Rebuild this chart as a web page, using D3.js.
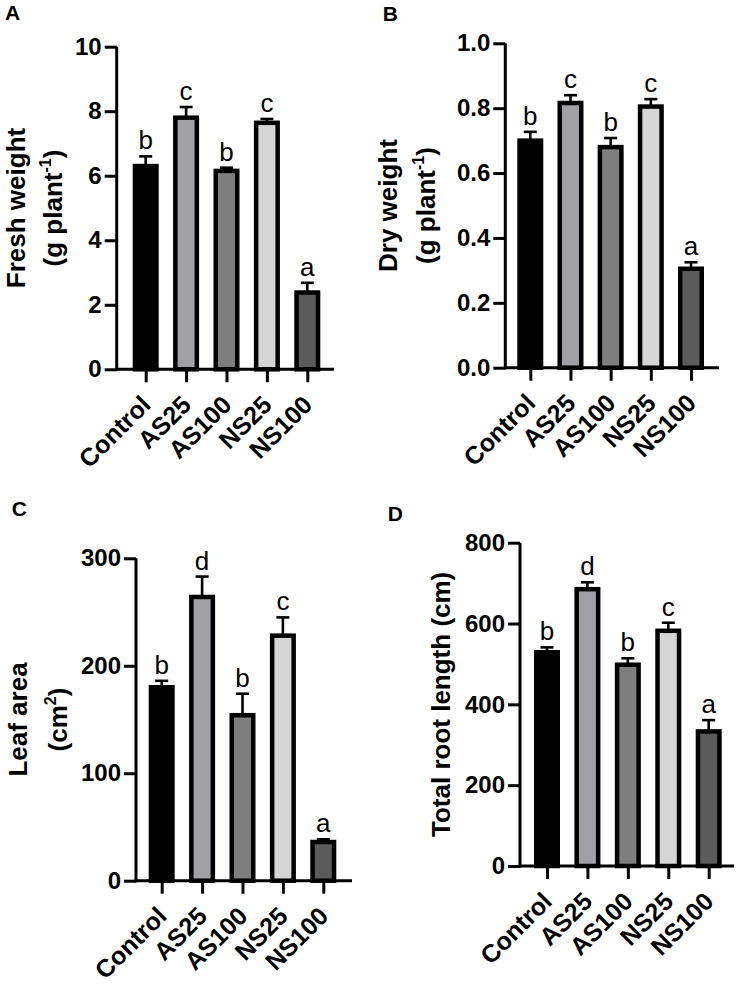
<!DOCTYPE html>
<html>
<head>
<meta charset="utf-8">
<script src="https://cdn.jsdelivr.net/npm/d3@7"></script>
<style>
  html, body { margin: 0; padding: 0; background: #fff; }
  svg { display: block; }
  text { font-family: "Liberation Sans", Arial, Helvetica, sans-serif; fill: #000; }
</style>
</head>
<body>
<svg id="chart" width="742" height="986"></svg>
<script>
// ---------------- data ----------------
const categories = ["Control", "AS25", "AS100", "NS25", "NS100"];

const freshWeight    = [6.30, 7.80, 6.15, 7.64, 2.38];
const freshWeightErr = [0.30, 0.33, 0.10, 0.12, 0.30];
const freshLetters   = ["b", "c", "b", "c", "a"];

const dryWeight    = [0.700, 0.816, 0.680, 0.805, 0.305];
const dryWeightErr = [0.027, 0.024, 0.028, 0.023, 0.020];
const dryLetters   = ["b", "c", "b", "c", "a"];

const leafArea    = [180, 264, 154, 228, 36];
const leafAreaErr = [6, 19, 20, 17, 2.5];
const leafLetters = ["b", "d", "b", "c", "a"];

const rootLength    = [529, 685, 498, 582, 333];
const rootLengthErr = [12, 17, 16, 20, 28];
const rootLetters   = ["b", "d", "b", "c", "a"];

const ticksFresh = [0, 2, 4, 6, 8, 10];
const ticksDry   = [0, 0.2, 0.4, 0.6, 0.8, 1.0];
const ticksLeaf  = [0, 100, 200, 300];
const ticksRoot  = [0, 200, 400, 600, 800];

// ---------------- styles ----------------
const barColors = ["#000000", "#a0a0a5", "#7e7e7e", "#d5d5d5", "#5b5b5b"];

// ---------------- layout ----------------
const panels = [
  { tag: "A", tagX: 5, tagY: 20,
    values: freshWeight, errs: freshWeightErr, letters: freshLetters,
    ticks: ticksFresh, fmt: d3.format("d"), max: 10,
    x0: 116.7, xEnd: 334, first: 145.7, last: 307.3, yTop: 46.7, yBot: 369.3,
    title: [{ x: 25, parts: [["Fresh weight"]] },
            { x: 62, parts: [["(g plant"], ["-1", "sup"], [")"]] }] },
  { tag: "B", tagX: 382.7, tagY: 20.5,
    values: dryWeight, errs: dryWeightErr, letters: dryLetters,
    ticks: ticksDry, fmt: d3.format(".1f"), max: 1,
    x0: 505.3, xEnd: 719, first: 530.3, last: 691, yTop: 43.3, yBot: 367.7,
    title: [{ x: 397, parts: [["Dry weight"]] },
            { x: 435, parts: [["(g plant"], ["-1", "sup"], [")"]] }] },
  { tag: "C", tagX: 11.7, tagY: 515.5,
    values: leafArea, errs: leafAreaErr, letters: leafLetters,
    ticks: ticksLeaf, fmt: d3.format("d"), max: 300,
    x0: 136, xEnd: 352, first: 161.7, last: 323.3, yTop: 558.3, yBot: 880.7,
    title: [{ x: 27, parts: [["Leaf area"]] },
            { x: 67, parts: [["(cm"], ["2", "sup"], [")"]] }] },
  { tag: "D", tagX: 387.7, tagY: 520.5,
    values: rootLength, errs: rootLengthErr, letters: rootLetters,
    ticks: ticksRoot, fmt: d3.format("d"), max: 800,
    x0: 520, xEnd: 734, first: 547, last: 708.7, yTop: 542.7, yBot: 866,
    title: [{ x: 449.5, parts: [["Total root length (cm)"]] }] }
];

const svg = d3.select("#chart");

const AXIS_W = 3, BAR_W = 21.5, BAR_STROKE = 4.5, CAP_W = 13, ERR_W = 2.6;
const FONT_TICK = 24, FONT_XLAB = 25, FONT_LET = 26, FONT_TITLE = 26, FONT_TAG = 21;

panels.forEach(p => {
  const g = svg.append("g");
  const y = d3.scaleLinear().domain([0, p.max]).range([p.yBot, p.yTop]);
  const x = d3.scalePoint().domain(categories).range([p.first, p.last]);

  // panel tag
  svg.append("text").attr("x", p.tagX).attr("y", p.tagY)
    .attr("font-size", FONT_TAG).attr("font-weight", "bold").text(p.tag);

  const rows = categories.map((c, i) => ({ c, i, v: p.values[i], e: p.errs[i], l: p.letters[i] }));

  // error bars (upper half only)
  const eb = g.append("g");
  rows.forEach(d => {
    const cx = x(d.c);
    eb.append("line").attr("x1", cx).attr("x2", cx)
      .attr("y1", y(d.v)).attr("y2", y(d.v + d.e))
      .attr("stroke", "#000").attr("stroke-width", ERR_W);
    eb.append("line").attr("x1", cx - CAP_W / 2).attr("x2", cx + CAP_W / 2)
      .attr("y1", y(d.v + d.e)).attr("y2", y(d.v + d.e))
      .attr("stroke", "#000").attr("stroke-width", ERR_W);
  });

  // bars
  g.append("g").selectAll("rect").data(rows).join("rect")
    .attr("x", d => x(d.c) - BAR_W / 2)
    .attr("width", BAR_W)
    .attr("y", d => y(d.v))
    .attr("height", d => y(0) - y(d.v))
    .attr("fill", d => barColors[d.i])
    .attr("stroke", "#000")
    .attr("stroke-width", BAR_STROKE);

  // significance letters
  g.append("g").selectAll("text").data(rows).join("text")
    .attr("x", d => x(d.c))
    .attr("y", d => y(d.v + d.e) - 7)
    .attr("text-anchor", "middle")
    .attr("font-size", FONT_LET)
    .text(d => d.l);

  // y axis
  const ya = g.append("g").attr("transform", `translate(${p.x0},0)`)
    .call(d3.axisLeft(y).tickValues(p.ticks).tickFormat(p.fmt).tickSize(12).tickSizeOuter(0).tickPadding(3));
  ya.select(".domain").attr("stroke-width", AXIS_W).attr("d", `M0,${p.yBot + AXIS_W / 2}V${p.yTop}`);
  ya.selectAll(".tick line").attr("stroke-width", AXIS_W);
  ya.selectAll(".tick text").attr("font-size", FONT_TICK).attr("font-weight", "bold")
    .attr("font-family", "Liberation Sans, Arial, sans-serif").attr("fill", "#000");

  // x axis
  const xa = g.append("g").attr("transform", `translate(0,${p.yBot})`)
    .call(d3.axisBottom(x).tickSize(13).tickSizeOuter(0).tickFormat(""));
  xa.select(".domain").remove();
  xa.selectAll(".tick line").attr("stroke-width", AXIS_W);
  g.append("line").attr("x1", p.x0 - AXIS_W / 2).attr("x2", p.xEnd)
    .attr("y1", p.yBot).attr("y2", p.yBot)
    .attr("stroke", "#000").attr("stroke-width", AXIS_W);

  // x labels
  g.append("g").selectAll("text").data(categories).join("text")
    .attr("transform", c => `translate(${x(c) + 6.5},${p.yBot + 37}) rotate(-45)`)
    .attr("text-anchor", "end")
    .attr("font-size", FONT_XLAB)
    .attr("font-weight", "bold")
    .text(c => c);

  // y title
  const cy = (p.yTop + p.yBot) / 2;
  p.title.forEach(line => {
    const t = svg.append("text")
      .attr("transform", `translate(${line.x},${cy}) rotate(-90)`)
      .attr("text-anchor", "middle")
      .attr("font-size", FONT_TITLE)
      .attr("font-weight", "bold");
    let raised = false;
    line.parts.forEach(([s, kind]) => {
      const ts = t.append("tspan").text(s);
      if (kind === "sup") {
        ts.attr("font-size", 16).attr("dy", -11);
        raised = true;
      } else if (raised) {
        ts.attr("dy", 11);
        raised = false;
      }
    });
  });
});
</script>
</body>
</html>
